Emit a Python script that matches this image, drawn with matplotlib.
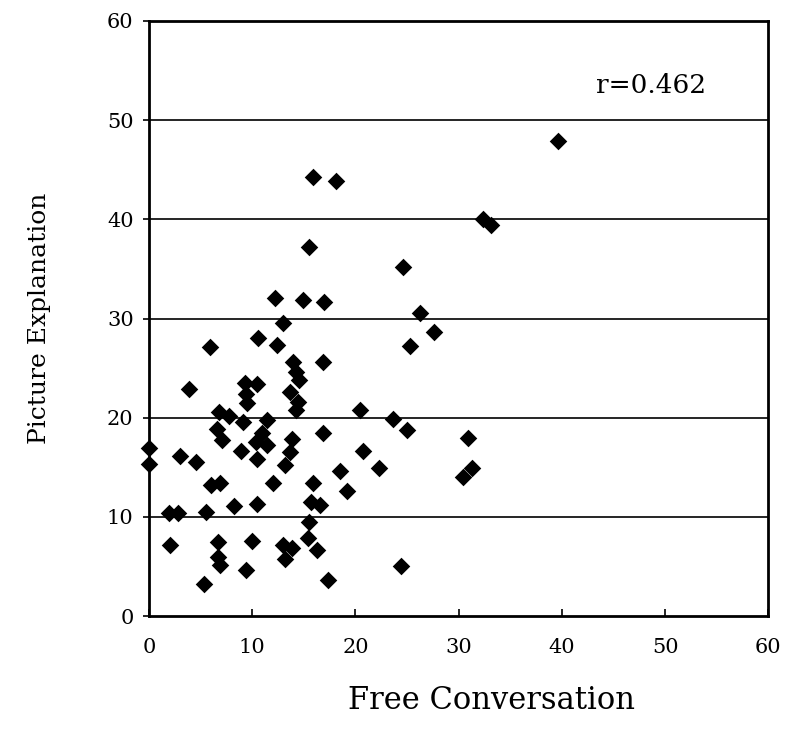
import matplotlib.pyplot as plt

# values
free_conversation = [
    0.0, 0.0, 1.9, 2.8, 2.0, 3.0, 3.9, 4.6, 5.3, 5.5,
    5.9, 6.0, 6.9, 6.8, 7.8, 9.1, 6.6, 7.1, 11.4, 11.0,
    10.4, 11.4, 8.9, 10.5, 9.3, 10.5, 9.4, 9.5, 8.2, 10.5,
    6.7, 10.0, 6.7, 6.9, 9.4, 10.6, 12.4, 13.0, 12.2, 14.9,
    17.0, 14.0, 14.2, 14.5, 13.7, 14.4, 14.2, 16.9, 16.9, 13.9,
    13.7, 13.2, 12.0, 15.9, 15.7, 16.6, 15.5, 15.4, 13.0, 13.9,
    16.3, 13.2, 17.3, 15.9, 18.1, 15.5, 24.6, 26.3, 27.6, 25.3,
    20.4, 23.6, 25.0, 30.9, 20.7, 22.3, 18.5, 30.4, 31.3, 19.2,
    24.4, 32.4, 33.1, 39.6,
]
picture_explanation = [
    17.0, 15.3, 10.4, 10.4, 7.2, 16.1, 22.9, 15.5, 3.2, 10.5,
    27.1, 13.2, 13.4, 20.6, 20.2, 19.6, 18.9, 17.8, 19.8, 18.5,
    17.6, 17.3, 16.6, 15.8, 23.5, 23.4, 22.4, 21.5, 11.1, 11.3,
    7.5, 7.6, 6.0, 5.2, 4.7, 28.0, 27.3, 29.6, 32.1, 31.9,
    31.7, 25.6, 24.6, 23.8, 22.6, 21.6, 20.8, 25.6, 18.5, 17.9,
    16.5, 15.2, 13.4, 13.4, 11.5, 11.2, 9.5, 7.9, 7.2, 6.9,
    6.7, 5.8, 3.6, 44.3, 43.9, 37.2, 35.2, 30.6, 28.6, 27.2,
    20.8, 19.9, 18.8, 18.0, 16.7, 14.9, 14.6, 14.0, 14.9, 12.6,
    5.1, 40.0, 39.4, 47.9,
]
r_text = "r=0.462"

plt.rcParams['font.family'] = ['DejaVu Serif']

fig = plt.figure(figsize=(7.88, 7.46), dpi=100)
ax = fig.add_axes([0.189, 0.174, 0.786, 0.798])

ax.scatter(free_conversation, picture_explanation, marker='D', s=80,
           color='black', zorder=3, linewidths=0, clip_on=False)

ax.set_xlim(0, 60)
ax.set_ylim(0, 60)
ax.set_xticks(range(0, 61, 10))
ax.set_yticks(range(0, 61, 10))

# horizontal grid only
for yv in range(10, 60, 10):
    ax.axhline(yv, color='black', linewidth=1.2, zorder=1)

for sp in ax.spines.values():
    sp.set_linewidth(2)
    sp.set_color('black')

ax.tick_params(axis='x', direction='in', length=5, width=1.2, pad=16, labelsize=15)
ax.tick_params(axis='y', direction='out', length=4, width=1.2, pad=7, labelsize=15)

ax.text(48.6, 53.5, r_text, fontsize=19, ha='center', va='center')

ax.set_xlabel('Free Conversation', fontsize=22)
ax.xaxis.set_label_coords(0.553, -0.115)
ax.set_ylabel('Picture Explanation', fontsize=18, labelpad=40)

fig.savefig('out.png', dpi=100)
